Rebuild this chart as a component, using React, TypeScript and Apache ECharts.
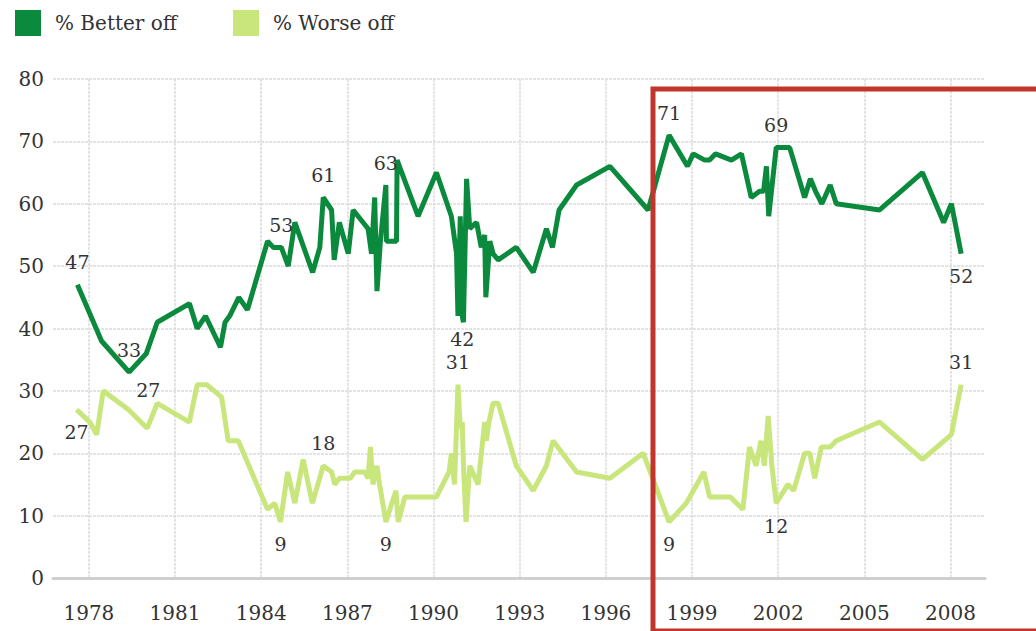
import React, { useEffect, useRef } from "react";
import * as echarts from "echarts";

const xTickYears = [1978, 1981, 1984, 1987, 1990, 1993, 1996, 1999, 2002, 2005, 2008];

const betterYears = [
  1977.6, 1978.44, 1979.4, 1980.0, 1980.38, 1981.5, 1981.77, 1982.06, 1982.58, 1982.74,
  1982.9, 1983.22, 1983.52, 1984.22, 1984.42, 1984.7, 1984.94, 1985.17, 1985.79, 1986.04,
  1986.16, 1986.45, 1986.54, 1986.72, 1987.03, 1987.2, 1987.72, 1987.84, 1987.95, 1988.03,
  1988.15, 1988.34, 1988.36, 1988.71, 1988.73, 1989.46, 1990.1, 1990.62, 1990.8, 1990.85,
  1990.93, 1991.0, 1991.04, 1991.15, 1991.26, 1991.5, 1991.66, 1991.78, 1991.82, 1991.96,
  1992.07, 1992.25, 1992.88, 1993.47, 1993.93, 1994.14, 1994.37, 1994.98, 1996.14, 1997.47,
  1998.2, 1998.84, 1999.04, 1999.44, 1999.61, 1999.82, 2000.37, 2000.72, 2001.06, 2001.35,
  2001.49, 2001.59, 2001.67, 2001.93, 2002.4, 2002.92, 2003.12, 2003.3, 2003.52, 2003.81,
  2004.02, 2005.53, 2007.02, 2007.76, 2008.03, 2008.37,
];
const betterValues = [
  47, 38, 33, 36, 41, 44, 40, 42, 37, 41,
  42, 45, 43, 54, 53, 53, 50, 57, 49, 53,
  61, 59, 51, 57, 52, 59, 56, 52, 61, 46,
  54, 63, 54, 54, 67, 58, 65, 58, 52, 42,
  58, 42, 41, 64, 56, 57, 53, 55, 45, 54,
  52, 51, 53, 49, 56, 53, 59, 63, 66, 59,
  71, 66, 68, 67, 67, 68, 67, 68, 61, 62,
  62, 66, 58, 69, 69, 61, 64, 62, 60, 63,
  60, 59, 65, 57, 60, 52,
];

const worseYears = [
  1977.57, 1978.03, 1978.27, 1978.5, 1979.37, 1980.03, 1980.38, 1981.5, 1981.77, 1982.1,
  1982.62, 1982.85, 1983.2, 1984.22, 1984.47, 1984.67, 1984.92, 1985.17, 1985.46, 1985.78,
  1986.16, 1986.45, 1986.56, 1986.72, 1987.1, 1987.26, 1987.6, 1987.72, 1987.8, 1987.89,
  1988.03, 1988.12, 1988.34, 1988.69, 1988.77, 1989.0, 1990.1, 1990.54, 1990.62, 1990.73,
  1990.85, 1990.93, 1991.0, 1991.04, 1991.13, 1991.26, 1991.55, 1991.78, 1991.84, 1991.93,
  1992.07, 1992.25, 1992.88, 1993.47, 1993.93, 1994.16, 1994.98, 1996.14, 1997.3, 1998.2,
  1998.8, 1999.41, 1999.61, 2000.33, 2000.77, 2001.0, 2001.23, 2001.4, 2001.52, 2001.65,
  2001.78, 2001.93, 2002.34, 2002.54, 2002.92, 2003.1, 2003.27, 2003.5, 2003.81, 2004.02,
  2005.53, 2007.02, 2008.03, 2008.37,
];
const worseValues = [
  27, 25, 23, 30, 27, 24, 28, 25, 31, 31,
  29, 22, 22, 11, 12, 9, 17, 12, 19, 12,
  18, 17, 15, 16, 16, 17, 17, 16, 21, 15,
  18, 15, 9, 14, 9, 13, 13, 17, 20, 15,
  31, 24, 25, 18, 9, 18, 15, 25, 22, 25,
  28, 28, 18, 14, 18, 22, 17, 16, 20, 9,
  12, 17, 13, 13, 11, 21, 18, 22, 18, 26,
  18, 12, 15, 14, 20, 20, 16, 21, 21, 22,
  25, 19, 23, 31,
];

// indices of points carrying a value label
const betterLabelsAbove = [0, 2, 15, 20, 31, 60, 73];
const betterLabelsBelow = [41, 85];
const worseLabelsAbove = [4, 20, 40, 83];
const worseLabelsBelow = [0, 15, 32, 59, 71];

const FONT = "DejaVu Serif";
const DARK = "#0b8a3e";
const LIGHT = "#c8e67c";

function buildData(years: number[], values: number[], above: number[], below: number[], shifted: Record<number, number[]>) {
  return years.map((x, i) => {
    const item: any = { value: [x, values[i]] };
    if (above.includes(i) || below.includes(i)) {
      const base: any = {
        show: true,
        formatter: String(values[i]),
        fontFamily: FONT,
        fontSize: 19,
        color: "#333",
      };
      if (shifted[i]) {
        base.position = shifted[i];
        base.align = "center";
        base.verticalAlign = "middle";
      } else {
        base.position = above.includes(i) ? "top" : "bottom";
        base.distance = 13;
      }
      item.label = base;
    }
    return item;
  });
}

export default function App() {
  const ref = useRef<HTMLDivElement>(null);
  useEffect(() => {
    if (!ref.current) return;
    const chart = echarts.init(ref.current, null, { renderer: "svg" });
    chart.setOption({
      animation: false,
      backgroundColor: "#fff",
      legend: {
        data: ["% Better off", "% Worse off"],
        left: 10,
        top: 5,
        icon: "rect",
        itemWidth: 26,
        itemHeight: 26,
        itemGap: 56,
        textStyle: { fontFamily: FONT, fontSize: 20, color: "#333", padding: [0, 0, 0, 9] },
      },
      grid: { left: 53, right: 51, top: 79, bottom: 53, containLabel: false },
      xAxis: {
        type: "value",
        min: 1976.75,
        max: 2009.2,
        axisLine: { show: true, lineStyle: { color: "#cfcfcf", width: 3 } },
        axisTick: { show: false, customValues: xTickYears },
        axisLabel: {
          customValues: xTickYears,
          fontFamily: FONT,
          fontSize: 20,
          color: "#333",
          margin: 25,
          formatter: (v: number) => String(Math.round(v)),
        },
        splitLine: { show: true, lineStyle: { color: "#dcdcdc", width: 1.5, type: [3, 1] } },
      },
      yAxis: {
        type: "value",
        min: 0,
        max: 80,
        interval: 10,
        axisLine: { show: false },
        axisTick: { show: false },
        axisLabel: { fontFamily: FONT, fontSize: 20, color: "#333", margin: 9 },
        splitLine: { show: true, lineStyle: { color: "#dcdcdc", width: 1.5, type: [3, 1] } },
      },
      series: [
        {
          name: "% Better off",
          type: "line",
          data: buildData(betterYears, betterValues, betterLabelsAbove, betterLabelsBelow, {}),
          showSymbol: true,
          symbol: "circle",
          symbolSize: 0,
          lineStyle: { color: DARK, width: 5 },
          itemStyle: { color: DARK },
          labelLayout: { hideOverlap: false },
          z: 3,
        },
        {
          name: "% Worse off",
          type: "line",
          data: buildData(worseYears, worseValues, worseLabelsAbove, worseLabelsBelow, { 4: [20, -20] }),
          showSymbol: true,
          symbol: "circle",
          symbolSize: 0,
          lineStyle: { color: LIGHT, width: 5 },
          itemStyle: { color: LIGHT },
          labelLayout: { hideOverlap: false },
          z: 2,
        },
      ],
      graphic: [
        {
          type: "rect",
          shape: { x: 653, y: 89, width: 420, height: 542 },
          style: { fill: "none", stroke: "#c1352a", lineWidth: 5 },
          z: 10,
        },
      ],
    });
    return () => chart.dispose();
  }, []);
  return <div ref={ref} style={{ position: "fixed", left: 0, top: 0, width: 1036, height: 631 }} />;
}
